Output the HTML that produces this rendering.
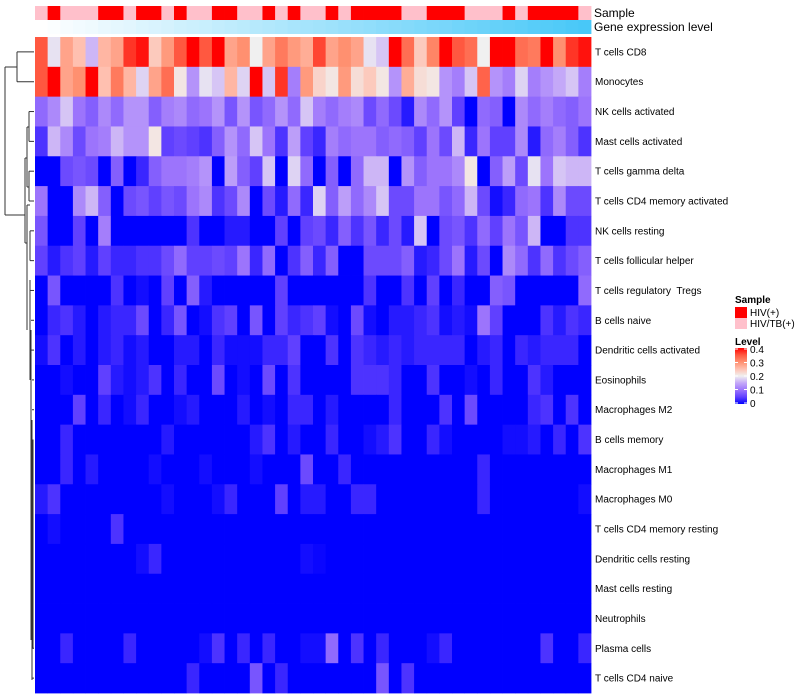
<!DOCTYPE html>
<html><head><meta charset="utf-8"><style>
body{margin:0;background:#fff;}
svg{display:block;font-family:"Liberation Sans",sans-serif;}
svg text{white-space:pre;}
</style></head><body>
<svg id="chart" width="800" height="700" xmlns="http://www.w3.org/2000/svg"></svg>
<script>
const rowLabels=["T cells CD8","Monocytes","NK cells activated","Mast cells activated","T cells gamma delta","T cells CD4 memory activated","NK cells resting","T cells follicular helper","T cells regulatory  Tregs","B cells naive","Dendritic cells activated","Eosinophils","Macrophages M2","B cells memory","Macrophages M1","Macrophages M0","T cells CD4 memory resting","Dendritic cells resting","Mast cells resting","Neutrophils","Plasma cells","T cells CD4 naive"];
const sampleGroups=["P","R","P","P","P","R","R","P","R","R","P","R","P","P","R","R","P","P","R","P","R","P","P","R","P","R","R","R","R","P","P","R","R","R","P","P","P","R","P","R","R","R","R","P"];
const geneLevels=[0,0.02,0.05,0.07,0.09,0.12,0.14,0.16,0.19,0.21,0.23,0.26,0.28,0.3,0.33,0.35,0.37,0.4,0.42,0.44,0.47,0.49,0.51,0.53,0.56,0.58,0.6,0.63,0.65,0.67,0.7,0.72,0.74,0.77,0.79,0.81,0.84,0.86,0.88,0.91,0.93,0.95,0.98,1];
const r0=[.35,.19,.28,.25,.16,.26,.28,.37,.39,.24,.29,.35,.4,.35,.4,.28,.3,.2,.28,.32,.29,.27,.36,.28,.3,.28,.19,.17,.4,.33,.24,.31,.4,.35,.33,.2,.4,.4,.33,.32,.4,.3,.37,.39];
const r1=[.35,.4,.28,.3,.4,.25,.32,.26,.18,.28,.33,.21,.13,.19,.17,.26,.18,.4,.17,.37,.11,.29,.23,.21,.29,.22,.24,.21,.13,.27,.22,.21,.13,.11,.17,.34,.13,.11,.18,.11,.13,.15,.17,.11];
const r2=[.09,.12,.17,.1,.08,.12,.09,.13,.13,.08,.11,.12,.09,.1,.13,.07,.13,.07,.09,.13,.09,.17,.11,.09,.11,.12,.06,.09,.06,.02,.12,.09,.13,.05,0,.09,.08,0,.12,.09,.11,.09,.08,.1];
const r3=[.04,.16,.12,.06,.1,.11,.16,.13,.13,.21,.05,.06,.05,.04,.08,.13,.09,.17,.1,.04,.14,.05,.03,.11,.09,.1,.1,.08,.09,.08,.05,.1,.06,.16,.03,.1,.05,.05,.12,.02,.09,.11,.08,.04];
const r4=[0,0,.06,.07,.06,0,.08,0,.03,.08,.1,.1,.11,.13,0,.14,.08,.05,.17,0,.18,.09,0,.08,0,.09,.16,.16,0,.13,.08,.1,.1,.12,.21,0,.08,.14,.06,.19,.1,.17,.16,.16];
const r5=[.1,0,0,.12,.16,.08,0,.06,.07,.05,.07,.06,.1,.12,.04,.06,.12,0,.06,.02,.09,.03,.18,.08,.14,.09,.12,.17,.06,.06,.1,.1,.07,.09,.16,.06,.01,.03,.09,.1,.04,.12,.06,.06];
const r6=[.07,0,0,.05,0,.11,0,0,0,0,0,0,.04,0,0,.02,.02,0,0,.05,0,.05,.06,.03,.08,.04,.07,.03,.06,.02,.17,0,.06,.07,.04,.09,.05,.1,.07,.16,0,0,.04,.04];
const r7=[.05,.02,.04,.05,.02,.05,.03,.03,.04,.04,.06,.09,.05,.05,.06,.05,.1,.03,.09,0,.04,.08,.03,.08,0,0,.06,.06,.06,.08,.02,.03,.06,.1,.02,.06,0,.12,.09,.04,.09,.04,.06,.08];
const r8=[0,.07,0,0,0,0,.04,0,.01,0,.05,0,.08,.02,0,0,0,0,0,.05,0,0,0,0,0,0,.04,0,0,.04,0,.05,0,.03,0,0,.08,.07,0,0,0,0,0,.09];
const r9=[0,.03,.04,.02,0,.02,.03,.03,.06,0,.03,.07,0,.01,.04,.05,0,.07,0,.05,.03,.04,.05,.01,0,.06,.01,0,.02,.02,.03,.04,.01,.02,.01,.1,.05,0,0,0,.04,.02,.04,.03];
const r10=[.01,.04,0,.02,0,.02,.03,.01,.02,0,0,.02,.02,0,.03,.01,.01,.01,.03,.03,.05,0,0,.04,0,.04,.03,.02,.03,.02,.03,.03,.03,.03,0,.02,.03,0,.03,.02,.03,.03,.03,0];
const r11=[0,0,.01,0,0,.05,.02,.01,.02,.04,0,.03,0,0,.06,0,.01,0,.06,0,.04,0,0,0,0,.04,.04,.04,.03,0,0,.04,0,0,.01,0,.03,0,0,.04,.02,0,0,0];
const r12=[0,0,0,.05,0,.03,0,.01,.03,0,0,.01,.02,0,0,0,.02,0,.01,0,.03,.03,0,.02,0,0,0,0,.03,0,0,0,.04,0,.06,0,0,0,0,.03,.04,0,.04,0];
const r13=[0,0,.03,0,0,0,0,0,0,0,.02,0,0,0,0,0,0,.02,.04,0,.02,0,0,.03,0,0,.01,.02,.04,0,0,.03,.01,0,0,0,0,.01,.01,.02,0,.03,0,.04];
const r14=[0,0,.03,0,.02,0,0,0,0,.01,0,0,0,.01,0,0,0,.01,0,0,0,.06,0,0,.03,0,0,0,0,0,0,0,0,0,0,.03,0,0,0,0,0,0,0,0];
const r15=[.02,.04,0,0,0,0,0,0,0,0,.01,0,0,0,.01,.03,0,0,0,.05,0,.02,.02,0,0,.03,.03,0,0,0,0,0,0,0,0,.03,0,0,0,0,0,0,0,.01];
const r16=[0,.01,0,0,0,0,.04,0,0,0,0,0,0,0,0,0,0,0,0,0,0,0,0,0,0,0,0,0,0,0,0,0,0,0,0,0,0,0,0,0,0,0,0,0];
const r17=[0,0,0,0,0,0,0,0,.01,.03,0,0,0,0,0,0,0,0,0,0,0,.01,.005,0,0,0,0,0,0,0,0,0,0,0,0,0,0,0,0,0,0,0,0,0];
const r18=[0,0,0,0,0,0,0,0,0,0,0,0,0,0,0,0,0,0,0,0,0,0,0,0,0,0,0,0,0,0,0,0,0,0,0,0,0,0,0,0,0,0,0,0];
const r19=[0,0,0,0,0,0,0,0,0,0,0,0,0,0,0,0,0,0,0,0,0,0,0,0,0,0,0,0,0,0,0,0,0,0,0,0,0,0,0,0,0,0,0,0];
const r20=[0,0,.03,0,0,0,0,.03,0,0,0,0,0,.01,.04,0,.03,0,.03,0,0,.01,.01,.09,0,.04,0,.03,0,0,0,.01,.03,0,0,0,0,0,0,0,.04,0,0,.03];
const r21=[0,0,0,0,0,0,0,0,0,0,0,0,.03,0,0,0,0,.07,0,.03,0,0,0,0,0,0,0,.07,0,.04,0,0,0,0,0,0,0,0,0,0,0,0,0,0];
const matrix=[r0,r1,r2,r3,r4,r5,r6,r7,r8,r9,r10,r11,r12,r13,r14,r15,r16,r17,r18,r19,r20,r21];
const levelTicks=["0.4","0.3","0.2","0.1","0"];
const sampleLegend=[["R","HIV(+)"],["P","HIV/TB(+)"]];

const NS="http://www.w3.org/2000/svg";
const svg=document.getElementById('chart');
function mk(tag,attrs,parent){const e=document.createElementNS(NS,tag);for(const k in attrs)e.setAttribute(k,attrs[k]);(parent||svg).appendChild(e);return e;}
const X0=35,X1=591,Y0=37,Y1=693;
const nCol=r0.length,nRow=matrix.length;
const cw=(X1-X0)/nCol,rh=(Y1-Y0)/nRow;
const xPos=i=>X0+i*cw, yPos=j=>Y0+j*rh;
const stops=[[0,[0,0,255]],[.05,[96,64,255]],[.1,[156,116,252]],[.15,[196,168,248]],[.2,[240,240,240]],[.25,[255,192,176]],[.3,[255,144,112]],[.35,[255,88,64]],[.4,[255,0,0]]];
function col(v){v=Math.max(0,Math.min(.4,v));for(let i=1;i<stops.length;i++){if(v<=stops[i][0]){const a=stops[i-1],b=stops[i],t=(v-a[0])/(b[0]-a[0]);const c=a[1].map((x,k)=>Math.round(x+(b[1][k]-x)*t));return `rgb(${c})`;}}return 'rgb(255,0,0)';}
const sampleColor={R:'#ff0000',P:'#ffc0cb'};
function geneColor(g){const a=[255,255,255],b=[72,200,248];return `rgb(${a.map((x,k)=>Math.round(x+(b[k]-x)*g))})`;}

const gS=mk('g',{});


sampleGroups.forEach((s,i)=>{const r=mk('rect',{x:xPos(i),y:6,width:cw+0.4,height:14,fill:sampleColor[s]},gS);

});
const gG=mk('g',{});


geneLevels.forEach((g,i)=>{const r=mk('rect',{x:xPos(i),y:20,width:cw+0.4,height:14,fill:geneColor(g)},gG);

});
const t1=mk('text',{x:594,y:17,'font-size':12,fill:'#000'});t1.textContent='Sample';


const t2=mk('text',{x:594,y:31,'font-size':12,fill:'#000'});t2.textContent='Gene expression level';



const gH=mk('g',{});


matrix.forEach((row,j)=>row.forEach((v,i)=>{const r=mk('rect',{x:xPos(i),y:yPos(j),width:cw+0.4,height:rh+0.4,fill:col(v)},gH);

}));
rowLabels.forEach((l,j)=>{const t=mk('text',{x:595,y:yPos(j)+rh/2+3.5,'font-size':10,fill:'#000'});t.textContent=l;

});

const gD=mk('g',{stroke:'#333','stroke-width':1,fill:'none'});


const cy=j=>yPos(j)+rh/2;
const segs=[[5,67,5,215],[5,67,17,67],[17,cy(0),17,cy(1)],[17,cy(0),34,cy(0)],[17,cy(1),34,cy(1)],[5,215,25,215],
[25,158,25,243],[25,158,27,158],[27,127,27,187],[27,127,29,127],[29,cy(2),29,cy(3)],[29,cy(2),34,cy(2)],[29,cy(3),34,cy(3)],[27,187,29,187],[29,cy(4),29,cy(5)],[29,cy(4),34,cy(4)],[29,cy(5),34,cy(5)],
[25,243,27,243],[27,205,27,330],[27,205,30,205],[30,cy(6),34,cy(6)],[30,cy(7),30,cy(6)],[30,cy(7),34,cy(7)],
[30,280,30,380],[30,cy(8),34,cy(8)],[31,330,31,640],[31,cy(9),34,cy(9)],[31,cy(10),34,cy(10)],[32,420,32,680],[32,cy(11),34,cy(11)],[32,cy(12),34,cy(12)],[33,cy(13),33,cy(20)],[33,cy(21),34,cy(21)],[32,cy(21),33,cy(21)],[32,cy(20),34,cy(20)]];
segs.forEach(s=>mk('line',{x1:s[0],y1:s[1],x2:s[2],y2:s[3]},gD));

const gL=mk('g',{});


const ls=mk('text',{x:735,y:303,'font-size':10,'font-weight':'bold'},gL);ls.textContent='Sample';


sampleLegend.forEach((e,i)=>{mk('rect',{x:735,y:307+i*11,width:12,height:11,fill:sampleColor[e[0]]},gL);
const t=mk('text',{x:750,y:316+i*11,'font-size':10},gL);t.textContent=e[1];

});
const lt=mk('text',{x:735,y:345,'font-size':10,'font-weight':'bold'},gL);lt.textContent='Level';


const defs=mk('defs',{});const lg=mk('linearGradient',{id:'lvl',x1:0,y1:1,x2:0,y2:0},defs);
stops.forEach(s=>mk('stop',{offset:s[0]/.4,'stop-color':col(s[0])},lg));
const cb=mk('rect',{x:735,y:348,width:12,height:56,fill:'url(#lvl)'},gL);


levelTicks.forEach((l,i)=>{const y=349+i*13.5;mk('line',{x1:735,x2:738,y1:y,y2:y,stroke:'#fff'},gL);mk('line',{x1:744,x2:747,y1:y,y2:y,stroke:'#fff'},gL);
const t=mk('text',{x:750,y:y+4,'font-size':10},gL);t.textContent=l;

});
</script>
</body></html>
